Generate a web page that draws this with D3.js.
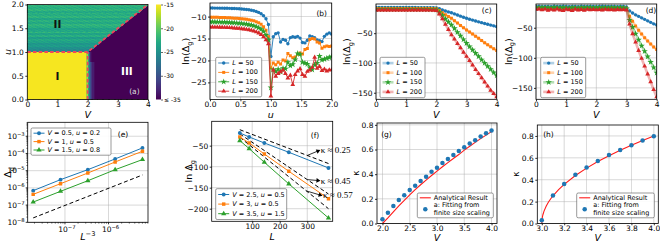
<!DOCTYPE html>
<html>
<head>
<meta charset="utf-8">
<script src="https://cdn.jsdelivr.net/npm/d3@7"></script>
<style>
  body { margin: 0; background: #fff; }
  svg { display: block; font-family: "DejaVu Sans", sans-serif; }
</style>
</head>
<body>
<svg id="fig" width="660" height="243"></svg>
<script>
// ---------------- data ----------------

// (a) phase diagram (colour value = ln gap)
const aBoundary = [[[0, 1], [2, 1], [4, 2]], [[2, 0], [2, 1]]];
const aLevelI = -15.3, aLevelIII = -35;
const aRowsII = [-26.5, -25.5, -25, -24, -24.5, -23.5, -23, -24, -22.5, -23.5, -22, -23, -23.5,
                 -22.5, -22, -23, -22.3, -23.3, -22, -22.7, -22.3, -23, -21.9, -22.5, -22.1];
const aEdge = [-18, -23, -27, -30, -32, -33.5, -34.5];   // I | III edge, from V = 1.98
const aJitter = [0.5, -0.4, 0.2, -0.6, 0.3, -0.1, 0.6, -0.3, 0.1, -0.5, 0.4];
const aNotes = [{V: 1, u: 1.6, t: 'II', c: '#111'}, {V: 1, u: 0.5, t: 'I', c: '#111'},
                {V: 3.3, u: 0.6, t: 'III', c: '#fff'}];
const cbarTicks = [-15, -20, -25, -30, -35];
const cbarLabels = ['-15', '-20', '-25', '-30', '\u2264 -35'];

// (b) ln gap vs u
const bU = d3.range(0, 2.0001, 0.04);
const sizesL = ['50', '100', '150', '200'];
const bLn50 = [-8.05,-8.05,-8.06,-8.06,-8.07,-8.08,-8.09,-8.10,-8.12,-8.14,-8.16,-8.19,-8.22,
  -8.26,-8.31,-8.37,-8.45,-8.55,-8.67,-8.83,-9.05,-9.35,-9.80,-10.5,-11.8,
  -19.1,-14.6,-13.9,-13.7,-15.8,-15.2,-15.4,-16.2,-14.8,-14.6,-14.7,-14.5,-14.9,-15.9,-16.0,-15.4,
  -14.4,-14.6,-14.8,-15.3,-15.5,-15.7,-14.5,-14.0,-13.7,-14.0];
const bLn100 = [-10.15,-10.15,-10.16,-10.17,-10.18,-10.20,-10.22,-10.25,-10.28,-10.32,-10.36,-10.40,-10.45,
  -10.50,-10.56,-10.63,-10.72,-10.83,-10.97,-11.15,-11.40,-11.75,-12.3,-13.1,-14.6,
  -21.7,-20.6,-21.0,-20.4,-20.8,-19.9,-20.1,-18.4,-18.9,-19.4,-19.2,-18.6,-18.3,-18.5,-17.5,-17.3,
  -15.2,-15.0,-15.1,-15.8,-16.0,-17.2,-16.9,-16.7,-16.8,-16.7];
const bLn150 = [-11.20,-11.20,-11.21,-11.22,-11.23,-11.25,-11.27,-11.30,-11.33,-11.37,-11.41,-11.46,-11.51,
  -11.57,-11.64,-11.72,-11.82,-11.94,-12.10,-12.30,-12.55,-12.9,-13.4,-14.2,-15.3,
  -26.2,-22.1,-22.5,-22.0,-22.6,-21.8,-21.9,-20.4,-21.2,-20.9,-19.8,-18.4,-18.6,-20.4,-20.6,-20.8,
  -21.6,-22.1,-21.0,-20.6,-19.0,-19.9,-19.7,-19.5,-19.3,-19.1];
const bLn200 = [-12.40,-12.40,-12.41,-12.42,-12.43,-12.45,-12.47,-12.50,-12.53,-12.57,-12.61,-12.66,-12.71,
  -12.77,-12.84,-12.92,-13.02,-13.14,-13.30,-13.50,-13.75,-14.1,-14.6,-15.3,-16.2,
  -28.1,-22.2,-23.6,-23.0,-22.6,-22.2,-23.0,-24.0,-23.4,-25.5,-23.2,-22.4,-21.9,-23.2,-23.6,-22.5,
  -22.2,-21.6,-19.3,-21.8,-21.4,-22.3,-22.0,-22.4,-22.2,-22.1];

// (c) ln gap vs V, u below transition
const cdV = d3.range(0, 4.0001, 0.1);
const cLn50 = [-6.9,-6.9,-6.9,-6.9,-6.9,-6.9,-6.9,-6.9,-6.9,-6.9,-6.9,-6.9,-6.9,-6.9,-7.0,-7.0,-7.0,-7.1,-7.2,-7.3,
  -7.5,-9,-11,-12.8,-14.3,-15.7,-17.6,-19.5,-21.4,-23.2,-25,-26.5,-28,-29.5,-31,-32.3,-33.7,-35,-36.4,-37.7,-39];
const cLn100 = [-8.5,-8.5,-8.5,-8.5,-8.5,-8.5,-8.5,-8.5,-8.5,-8.5,-8.5,-8.5,-8.5,-8.5,-8.5,-8.5,-8.6,-8.6,-8.7,-8.8,
  -9,-12,-15.5,-19,-22,-25,-29,-33,-37,-41,-44.5,-48,-51.5,-55,-58.7,-62.3,-66,-69.5,-72.8,-76,-79];
const cLn150 = [-10,-10,-10,-10,-10,-10,-10,-10,-10,-10,-10,-10,-10,-10,-10,-10,-10,-10.1,-10.2,-10.3,
  -10.5,-15,-20,-26,-31,-36,-42,-48.5,-54.5,-60.5,-66.7,-72.5,-78,-83.5,-89,-94.5,-100,-105.5,-110.5,-116,-121];
const cLn200 = [-11.2,-11.2,-11.2,-11.2,-11.2,-11.2,-11.2,-11.2,-11.2,-11.2,-11.2,-11.2,-11.2,-11.2,-11.2,-11.2,-11.3,-11.3,-11.4,-11.6,
  -12,-18,-26,-35,-44,-52.7,-60,-67.5,-74.5,-82,-89,-96,-103.5,-111,-118,-125,-132,-139,-146,-151.5,-156.7];

// (d) ln gap vs V, second cut
const dLn50 = [-14.5,-14.2,-14.8,-14.4,-14.6,-14.9,-14.3,-14.5,-14.7,-14.2,-14.6,-14.8,-14.4,-14.5,-14.9,
  -14.3,-14.6,-14.7,-14.4,-14.5,-14.8,-14.6,-14.3,-14.5,-14.7,-14.4,-14.6,-14.8,-14.5,-14.6,
  -15.5,-22,-25.5,-28.5,-31,-33.5,-36,-38.5,-41,-43.5,-45.5];
const dLn100 = [-16.8,-17.2,-16.5,-17.5,-16.9,-17.8,-16.6,-17.3,-17.9,-16.7,-17.4,-18.0,-16.8,-17.2,-17.6,
  -16.9,-17.3,-17.0,-16.7,-17.5,-17.1,-16.8,-17.4,-17.0,-17.6,-16.9,-17.2,-17.5,-17.0,-17.3,
  -17.5,-31,-39,-47,-54,-60.5,-66.5,-72,-77,-82,-86];
const dLn150 = [-16.2,-16.8,-16.0,-16.9,-16.4,-17.2,-16.1,-16.7,-17.0,-16.3,-16.9,-17.3,-16.5,-16.8,-17.1,
  -16.4,-16.7,-16.6,-16.2,-16.9,-16.5,-16.3,-16.8,-16.6,-17.0,-16.4,-16.7,-16.9,-16.5,-16.8,
  -18,-37,-49,-60,-70,-80,-89,-98,-107,-116,-125];
const dLn200 = [-19.5,-18.8,-20.4,-19.2,-21.0,-19.6,-20.8,-19.0,-20.5,-21.3,-19.4,-20.1,-21.5,-19.3,-20.6,
  -19.8,-20.9,-19.5,-20.2,-19.7,-20.4,-19.9,-20.7,-19.6,-20.3,-20.0,-20.5,-19.8,-20.2,-20.0,
  -20.5,-44,-60,-74,-88,-101,-114,-127,-140,-153,-165];

// (e) gap vs L^-3 (Fibonacci sizes)
const eL = [377, 233, 144, 89, 55];
const eNames = ['_V_ = 0.5, _u_ = 0.2', '_V_ = 1, _u_ = 0.5', '_V_ = 1.5, _u_ = 0.8'];
const eGap1 = [6.9e-7, 3.0e-6, 1.14e-5, 4.8e-5, 2.1e-4];
const eGap2 = [4.2e-7, 1.75e-6, 7.3e-6, 3.2e-5, 1.34e-4];
const eGap3 = [1.5e-7, 6.3e-7, 2.6e-6, 1.14e-5, 4.4e-5];
const eGuideL = [377, 55];
const eGuide = [1.8e-8, 5.6e-6];

// (f) ln gap vs L
const fL = [55, 89, 144, 233, 377];
const fNames = ['_V_ = 2.5, _u_ = 0.5', '_V_ = 3, _u_ = 0.5', '_V_ = 3.5, _u_ = 1.5'];
const fLn1 = [-19.8, -29.3, -43.6, -65.7, -103];
const fLn2 = [-29.3, -43.6, -69.8, -111, -176.2];
const fLn3 = [-38, -57, -89.5, -141, -222];
const fFitL = [55, 377];
const fFit1 = [-12, -92.5], fFit2 = [-22, -165], fFit3 = [-30, -200];
const fNotes = ['\u03ba \u2248 0.25', '\u03ba \u2248 0.45', '\u03ba \u2248 0.57'];

// (g) kappa vs V
const gV = d3.range(2.0, 4.0001, 0.1);
const gKappa = [0.035,0.087,0.141,0.19,0.23,0.271,0.307,0.344,0.38,0.42,0.453,0.491,0.523,0.556,0.588,
  0.618,0.648,0.675,0.705,0.732,0.754];
const gTheory = [0,0.045,0.095,0.142,0.188,0.232,0.274,0.314,0.352,0.389,0.425,0.46,0.494,0.527,0.559,
  0.595,0.627,0.658,0.688,0.717,0.745];

// (h) kappa vs V
const hV = d3.range(3.0, 4.0001, 0.1);
const hKappa = [0.03, 0.255, 0.36, 0.445, 0.512, 0.572, 0.625, 0.672, 0.716, 0.758, 0.797];
const hTheoryV = [3.0,3.005,3.01,3.02,3.04,3.06,3.08,3.1,3.15,3.2,3.3,3.4,3.5,3.6,3.7,3.8,3.9,4.0];
const hTheory = [0,0.057,0.08,0.113,0.16,0.196,0.226,0.253,0.31,0.358,0.438,0.506,0.566,0.62,0.669,0.716,0.759,0.8];

// ---------------- helpers ----------------
const svg = d3.select('#fig');
const C = ['#1f77b4', '#ff7f0e', '#2ca02c', '#d62728'];
const SYM = {o: d3.symbolCircle, s: d3.symbolSquare, '*': d3.symbolStar, '^': d3.symbolTriangle};
const TICK_FS = 7.5, LAB_FS = 9.5, LEG_FS = 6.5;
let clipN = 0;

// _x_ italic, ~x~ subscript, ^x^ superscript
let rich = (sel, str, fs) => {
  let cur = 0;
  str.split(/(_[^_]+_|~[^~]+~|\^[^^]+\^)/).filter(s => s).forEach(s => {
    let t = sel.append('tspan'), shift = 0, txt = s;
    if (s[0] === '_') { t.attr('font-style', 'italic'); txt = s.slice(1, -1); }
    else if (s[0] === '~') { shift = 0.3 * fs; t.attr('font-size', fs * 0.7); txt = s.slice(1, -1); }
    else if (s[0] === '^') { shift = -0.4 * fs; t.attr('font-size', fs * 0.7); txt = s.slice(1, -1); }
    if (shift !== cur) t.attr('dy', shift - cur);
    cur = shift;
    t.text(txt);
  });
  return sel;
};

let axes = (b, x, y, o) => {
  let id = 'clip' + (++clipN);
  svg.append('clipPath').attr('id', id).append('rect')
    .attr('x', b.l).attr('y', b.t).attr('width', b.r - b.l).attr('height', b.b - b.t);
  let grid = svg.append('g');
  let data = svg.append('g').attr('clip-path', `url(#${id})`);
  let top = svg.append('g');
  if (o.grid !== false) {
    grid.selectAll('.gx').data(o.xt).join('line').attr('class', 'gx')
      .attr('x1', d => x(d)).attr('x2', d => x(d)).attr('y1', b.t).attr('y2', b.b);
    grid.selectAll('.gy').data(o.yt).join('line').attr('class', 'gy')
      .attr('y1', d => y(d)).attr('y2', d => y(d)).attr('x1', b.l).attr('x2', b.r);
    grid.selectAll('line').attr('stroke', '#b0b0b0').attr('stroke-width', 0.8).attr('opacity', 0.6);
  }
  if (o.xf) {
    let gx = top.append('g').attr('transform', `translate(0,${b.b})`)
      .call(d3.axisBottom(x).tickValues(o.xt).tickFormat(o.xf).tickSize(1.8).tickPadding(0.2));
    gx.select('.domain').remove();
    gx.attr('font-size', TICK_FS).attr('font-family', null);
    gx.selectAll('line').attr('stroke-width', 0.8);
  }
  if (o.yf) {
    let gy = top.append('g').attr('transform', `translate(${b.l},0)`)
      .call(d3.axisLeft(y).tickValues(o.yt).tickFormat(o.yf).tickSize(2).tickPadding(1.5));
    gy.select('.domain').remove();
    gy.attr('font-size', TICK_FS).attr('font-family', null);
    gy.selectAll('line').attr('stroke-width', 0.8);
  }
  top.append('rect').attr('x', b.l).attr('y', b.t).attr('width', b.r - b.l).attr('height', b.b - b.t)
    .attr('fill', 'none').attr('stroke', '#000').attr('stroke-width', 0.8);
  if (o.xl) rich(top.append('text').attr('x', (b.l + b.r) / 2).attr('y', o.xly)
    .attr('text-anchor', 'middle').attr('font-size', LAB_FS), o.xl, LAB_FS);
  if (o.yl) rich(top.append('text').attr('transform', `translate(${o.ylx},${(b.t + b.b) / 2}) rotate(-90)`)
    .attr('text-anchor', 'middle').attr('font-size', LAB_FS), o.yl, LAB_FS);
  if (o.tag) top.append('text').attr('x', o.tag[0]).attr('y', o.tag[1]).attr('text-anchor', 'middle')
    .attr('dominant-baseline', 'central').attr('font-size', 7.5).attr('fill', o.tagColor || '#000').text(o.tag[2]);
  return {data, top};
};

let series = (layer, xs, ys, x, y, color, sym, opt) => {
  let pts = xs.map((v, i) => [v, ys[i]]);
  if (opt.lw) layer.append('path').datum(pts)
    .attr('d', d3.line().x(d => x(d[0])).y(d => y(d[1])))
    .attr('fill', 'none').attr('stroke', color).attr('stroke-width', opt.lw)
    .attr('stroke-opacity', opt.op || 1).attr('stroke-dasharray', opt.dash || null);
  if (sym) layer.append('g').selectAll('path').data(pts).join('path')
    .attr('transform', d => `translate(${x(d[0])},${y(d[1])})`)
    .attr('d', d3.symbol(SYM[sym], opt.ms || 10)).attr('fill', color);
};

// items: {color, sym, ms, lw, op, text | lines}
let legend = (x0, y0, w, rowH, items) => {
  let g = svg.append('g');
  let h = d3.sum(items, it => it.lines ? rowH * it.lines.length : rowH) + 2;
  g.append('rect').attr('x', x0).attr('y', y0).attr('width', w).attr('height', h).attr('rx', 1.5)
    .attr('fill', '#fff').attr('fill-opacity', 0.9).attr('stroke', '#555').attr('stroke-width', 0.6);
  let cy = y0 + 1;
  items.forEach(it => {
    let n = it.lines ? it.lines.length : 1;
    let mid = cy + rowH * n / 2;
    if (it.lw) g.append('line').attr('x1', x0 + 2.5).attr('x2', x0 + 13.5).attr('y1', mid).attr('y2', mid)
      .attr('stroke', it.color).attr('stroke-width', it.lw).attr('stroke-opacity', it.op || 1);
    if (it.sym) g.append('path').attr('transform', `translate(${x0 + 8},${mid})`)
      .attr('d', d3.symbol(SYM[it.sym], it.ms || 10)).attr('fill', it.color);
    (it.lines || [it.text]).forEach((s, k) => {
      rich(g.append('text').attr('x', x0 + 16.5).attr('y', cy + rowH * (k + 0.5))
        .attr('dominant-baseline', 'central').attr('font-size', LEG_FS), s, LEG_FS);
    });
    cy += rowH * n;
  });
};

const f1 = d3.format('.1f'), f0 = d3.format('d');

// ---------------- (a) ----------------
const A = {l: 27.3, r: 148, t: 4.5, b: 99.5};
const xa = d3.scaleLinear().domain([0, 4]).range([A.l, A.r]);
const ya = d3.scaleLinear().domain([0, 2]).range([A.b, A.t]);
const cmap = d3.scaleSequential(d3.interpolateViridis).domain([-35, -15]).clamp(true);
const pa = axes(A, xa, ya, {grid: false, xt: [0, 1, 2, 3, 4], xf: f0, yt: [0, 0.5, 1, 1.5, 2], yf: f1,
  xl: '_V_', xly: 117.5, yl: '_u_', ylx: 10.5});

let aValue = (v, u, i, j) => {
  if (u >= 1 && u >= v / 2) return aRowsII[Math.min(aRowsII.length - 1, Math.floor((u - 1) / 0.04))]
    + aJitter[(i * 7 + j * 3) % aJitter.length];
  if (u < 1 && v < 1.98) return aLevelI;
  let sc = u < 0.8 ? 1 : 1.7;
  let k = Math.floor((v - 1.98) / 0.04 * sc);
  if (u < 1 && k < aEdge.length) return aEdge[k];
  return aLevelIII;
};
const aCells = [];
d3.range(0, 4, 0.04).forEach((v, i) => d3.range(0, 2, 0.02).forEach((u, j) =>
  aCells.push({v, u, val: aValue(v + 0.02, u + 0.01, i, j)})));
pa.data.append('g').selectAll('rect').data(aCells).join('rect')
  .attr('x', d => xa(d.v)).attr('y', d => ya(d.u + 0.02))
  .attr('width', xa(0.04) - xa(0) + 0.4).attr('height', ya(0) - ya(0.02) + 0.4)
  .attr('fill', d => cmap(d.val)).attr('shape-rendering', 'crispEdges');
aBoundary.forEach(seg => pa.data.append('path').datum(seg)
  .attr('d', d3.line().x(d => xa(d[0])).y(d => ya(d[1])))
  .attr('fill', 'none').attr('stroke', '#f0475a').attr('stroke-width', 1.8).attr('stroke-dasharray', '3.5,2.2'));
pa.top.selectAll('.note').data(aNotes).join('text').attr('class', 'note')
  .attr('x', d => xa(d.V)).attr('y', d => ya(d.u)).attr('text-anchor', 'middle').attr('dominant-baseline', 'central')
  .attr('font-size', 10.5).attr('font-weight', 'bold').attr('fill', d => d.c).text(d => d.t);
pa.top.append('text').attr('x', xa(3.55)).attr('y', ya(0.16)).attr('text-anchor', 'middle')
  .attr('dominant-baseline', 'central').attr('font-size', 7.5).attr('fill', '#ddd').text('(a)');

// colour bar
const cb = {l: 156, r: 161, t: A.t, b: A.b};
const cy = d3.scaleLinear().domain([-35, -15]).range([cb.b, cb.t]);
const grad = svg.append('defs').append('linearGradient').attr('id', 'vir')
  .attr('x1', 0).attr('y1', 1).attr('x2', 0).attr('y2', 0);
grad.selectAll('stop').data(d3.range(0, 1.0001, 0.1)).join('stop')
  .attr('offset', d => d).attr('stop-color', d => d3.interpolateViridis(d));
svg.append('rect').attr('x', cb.l).attr('y', cb.t).attr('width', cb.r - cb.l).attr('height', cb.b - cb.t)
  .attr('fill', 'url(#vir)');
const cbg = svg.append('g').attr('transform', `translate(${cb.r},0)`)
  .call(d3.axisRight(cy).tickValues(cbarTicks).tickFormat((d, i) => cbarLabels[i]).tickSize(2).tickPadding(1));
cbg.select('.domain').remove();
cbg.attr('font-size', 6).attr('font-family', null);
cbg.selectAll('line').attr('stroke-width', 0.6);

// ---------------- (b) ----------------
const B = {l: 210, r: 331.7, t: 3, b: 99.5};
const xb = d3.scaleLinear().domain([0, 2]).range([B.l, B.r]);
const yb = d3.scaleLinear().domain([-28.9, -6.9]).range([B.b, B.t]);
const pb = axes(B, xb, yb, {xt: [0, 0.5, 1, 1.5, 2], xf: f1, yt: [-10, -15, -20, -25], yf: f0,
  xl: '_u_', xly: 117.5, yl: 'ln(\u0394~g~)', ylx: 189, tag: [321.7, 13.3, '(b)']});
const markers4 = ['o', 's', '*', '^'], msize4 = [9, 9, 13, 10];
[bLn50, bLn100, bLn150, bLn200].forEach((s, k) =>
  series(pb.data, bU, s, xb, yb, C[k], markers4[k], {lw: 0.9, ms: msize4[k]}));
legend(215.7, 57.3, 46, 9.4, sizesL.map((L, k) =>
  ({color: C[k], sym: markers4[k], ms: msize4[k], lw: 0.9, text: `_L_ = ${L}`})));

// ---------------- (c) ----------------
const Cb = {l: 376, r: 496.7, t: 4, b: 99.3};
const xc = d3.scaleLinear().domain([0, 4]).range([Cb.l, Cb.r]);
const yc = d3.scaleLinear().domain([-161, -1]).range([Cb.b, Cb.t]);
const pc = axes(Cb, xc, yc, {xt: [0, 1, 2, 3, 4], xf: f0, yt: [-50, -100, -150], yf: f0,
  xl: '_V_', xly: 117.5, yl: 'ln(\u0394~g~)', ylx: 350, tag: [486.7, 10, '(c)']});
[cLn50, cLn100, cLn150, cLn200].forEach((s, k) =>
  series(pc.data, cdV, s, xc, yc, C[k], markers4[k], {lw: 2.6, op: 0.35, ms: msize4[k]}));
legend(380, 57.3, 45, 9.6, sizesL.map((L, k) =>
  ({color: C[k], sym: markers4[k], ms: msize4[k], lw: 2.6, op: 0.35, text: `_L_ = ${L}`})));

// ---------------- (d) ----------------
const D = {l: 536, r: 656.7, t: 4, b: 99.3};
const xd = d3.scaleLinear().domain([0, 4]).range([D.l, D.r]);
const yd = d3.scaleLinear().domain([-169, -10.5]).range([D.b, D.t]);
const pd = axes(D, xd, yd, {xt: [0, 1, 2, 3, 4], xf: f0, yt: [-50, -100, -150], yf: f0,
  xl: '_V_', xly: 117.5, yl: 'ln(\u0394~g~)', ylx: 511.5, tag: [651, 10, '(d)']});
[dLn50, dLn100, dLn150, dLn200].forEach((s, k) =>
  series(pd.data, cdV, s, xd, yd, C[k], markers4[k], {lw: 2.6, op: 0.35, ms: msize4[k]}));
legend(540.7, 57.3, 45, 9.6, sizesL.map((L, k) =>
  ({color: C[k], sym: markers4[k], ms: msize4[k], lw: 2.6, op: 0.35, text: `_L_ = ${L}`})));

// ---------------- (e) ----------------
const E = {l: 27.7, r: 148, t: 122.3, b: 222.3};
const xe = d3.scaleLog().domain([Math.pow(10, -7.855), Math.pow(10, -5.094)]).range([E.l, E.r]);
const ye = d3.scaleLog().domain([1e-8, Math.pow(10, -2.19)]).range([E.b, E.t]);
const exMaj = [1e-7, 1e-6], eyMaj = [1e-8, 1e-7, 1e-6, 1e-5, 1e-4, 1e-3];
const pe = axes(E, xe, ye, {xt: exMaj, yt: eyMaj, xl: '_L_^\u22123^', xly: 240, yl: '\u0394~g~', ylx: 11,
  tag: [123, 134, '(e)']});
// log ticks, minor + major
const minors = [];
d3.range(-9, -1).forEach(k => d3.range(2, 10).forEach(m => minors.push(m * Math.pow(10, k))));
const inX = v => v >= xe.domain()[0] && v <= xe.domain()[1];
const inY = v => v >= ye.domain()[0] && v <= ye.domain()[1];
pe.top.append('g').selectAll('line').data(minors.filter(inX)).join('line')
  .attr('x1', d => xe(d)).attr('x2', d => xe(d)).attr('y1', E.b).attr('y2', E.b + 1.3)
  .attr('stroke', '#000').attr('stroke-width', 0.6);
pe.top.append('g').selectAll('line').data(minors.filter(inY)).join('line')
  .attr('y1', d => ye(d)).attr('y2', d => ye(d)).attr('x1', E.l).attr('x2', E.l - 1.3)
  .attr('stroke', '#000').attr('stroke-width', 0.6);
pe.top.append('g').selectAll('line').data(exMaj).join('line')
  .attr('x1', d => xe(d)).attr('x2', d => xe(d)).attr('y1', E.b).attr('y2', E.b + 2)
  .attr('stroke', '#000').attr('stroke-width', 0.8);
pe.top.append('g').selectAll('line').data(eyMaj).join('line')
  .attr('y1', d => ye(d)).attr('y2', d => ye(d)).attr('x1', E.l).attr('x2', E.l - 2)
  .attr('stroke', '#000').attr('stroke-width', 0.8);
exMaj.forEach(v => rich(pe.top.append('text').attr('x', xe(v) + 2).attr('y', E.b + 9.5)
  .attr('text-anchor', 'middle').attr('font-size', TICK_FS), `10^\u2212${-Math.round(Math.log10(v))}^`, TICK_FS));
eyMaj.forEach(v => rich(pe.top.append('text').attr('x', E.l - 3).attr('y', ye(v) + 2.5)
  .attr('text-anchor', 'end').attr('font-size', TICK_FS), `10^\u2212${-Math.round(Math.log10(v))}^`, TICK_FS));
const eX = eL.map(L => Math.pow(L, -3));
series(pe.data, eGuideL.map(L => Math.pow(L, -3)), eGuide, xe, ye, '#000', null, {lw: 1, dash: '4,2.5'});
[eGap1, eGap2, eGap3].forEach((s, k) =>
  series(pe.data, eX, s, xe, ye, C[k], ['o', 's', '^'][k], {lw: 1, ms: 12}));
legend(31, 128, 80, 8.4, eNames.map((t, k) => ({color: C[k], sym: ['o', 's', '^'][k], ms: 12, lw: 1, text: t})));

// ---------------- (f) ----------------
const F = {l: 211.7, r: 332.7, t: 121.3, b: 221.3};
const xf = d3.scaleLinear().domain([55 - 33.3 / 0.326, 377 + 5 / 0.326]).range([F.l, F.r]);
const yf = d3.scaleLinear().domain([-230, 8]).range([F.b, F.t]);
const pf = axes(F, xf, yf, {xt: [100, 200, 300], xf: f0, yt: [-50, -100, -150, -200], yf: f0,
  xl: '_L_', xly: 240, yl: 'ln \u0394~g~', ylx: 192, tag: [315, 135, '(f)']});
[fFit1, fFit2, fFit3].forEach(s => series(pf.data, fFitL, s, xf, yf, '#000', null, {lw: 1, dash: '4,2.5'}));
[fLn1, fLn2, fLn3].forEach((s, k) => series(pf.data, fL, s, xf, yf, C[k], ['o', 's', '^'][k], {lw: 1, ms: 12}));
legend(215.7, 188.7, 71, 9.6, fNames.map((t, k) => ({color: C[k], sym: ['o', 's', '^'][k], ms: 12, lw: 1, text: t})));
// kappa annotations: arrow from the fitted line towards the label
const fAnchor = [[300, fFit1], [300, fFit2], [297, fFit3]];
const fArrow = [[12, -5], [12, 1], [15, 4.5]];
fAnchor.forEach(([L, fit], k) => {
  let v = fit[0] + (fit[1] - fit[0]) * (L - fFitL[0]) / (fFitL[1] - fFitL[0]);
  let x0 = xf(L), y0 = yf(v), x1 = x0 + fArrow[k][0], y1 = y0 + fArrow[k][1];
  let ang = Math.atan2(y1 - y0, x1 - x0);
  pf.top.append('line').attr('x1', x0).attr('y1', y0).attr('x2', x1).attr('y2', y1)
    .attr('stroke', '#000').attr('stroke-width', 0.8);
  pf.top.append('path').attr('d', d3.symbol(d3.symbolTriangle, 9)())
    .attr('transform', `translate(${x1 - 1.5 * Math.cos(ang)},${y1 - 1.5 * Math.sin(ang)}) rotate(${ang * 180 / Math.PI + 90})`)
    .attr('fill', '#000');
  pf.top.append('text').attr('x', x1 + 1.5).attr('y', y1 + 3)
    .attr('font-family', '"Liberation Serif", "DejaVu Serif", serif').attr('font-size', 9).text(fNotes[k]);
});

// ---------------- (g) ----------------
const G = {l: 377, r: 497, t: 123, b: 223.5};
const xg = d3.scaleLinear().domain([1.9, 4.1]).range([G.l, G.r]);
const yg = d3.scaleLinear().domain([0, 0.815]).range([G.b, G.t]);
const pg = axes(G, xg, yg, {xt: [2, 2.5, 3, 3.5, 4], xf: f1, yt: [0, 0.2, 0.4, 0.6, 0.8], yf: f1,
  xl: '_V_', xly: 241, yl: '\u03ba', ylx: 358.5, tag: [386.5, 134, '(g)']});
series(pg.data, gV, gTheory, xg, yg, '#ff1a1a', null, {lw: 1.1});
series(pg.data, gV, gKappa, xg, yg, C[0], 'o', {ms: 16});
legend(417.3, 193, 76, 7.6, [{color: '#ff1a1a', lw: 1.1, text: 'Analytical Result'},
  {color: C[0], sym: 'o', ms: 16, lines: ['a: Fitting from', 'finite size scaling']}]);

// ---------------- (h) ----------------
const Hb = {l: 537.3, r: 658.3, t: 125, b: 223.5};
const xh = d3.scaleLinear().domain([2.96, 4.04]).range([Hb.l, Hb.r]);
const yh = d3.scaleLinear().domain([0, 0.9]).range([Hb.b, Hb.t]);
const ph = axes(Hb, xh, yh, {xt: [3, 3.2, 3.4, 3.6, 3.8, 4], xf: f1, yt: [0, 0.2, 0.4, 0.6, 0.8], yf: f1,
  xl: '_V_', xly: 241, yl: '\u03ba', ylx: 519, tag: [548.5, 134.7, '(h)']});
series(ph.data, hTheoryV, hTheory, xh, yh, '#ff1a1a', null, {lw: 1.1});
series(ph.data, hV, hKappa, xh, yh, C[0], 'o', {ms: 16});
legend(576.7, 193, 77.6, 7.6, [{color: '#ff1a1a', lw: 1.1, text: 'Analytical Result'},
  {color: C[0], sym: 'o', ms: 16, lines: ['a: Fitting from', 'finite size scaling']}]);
</script>
</body>
</html>
